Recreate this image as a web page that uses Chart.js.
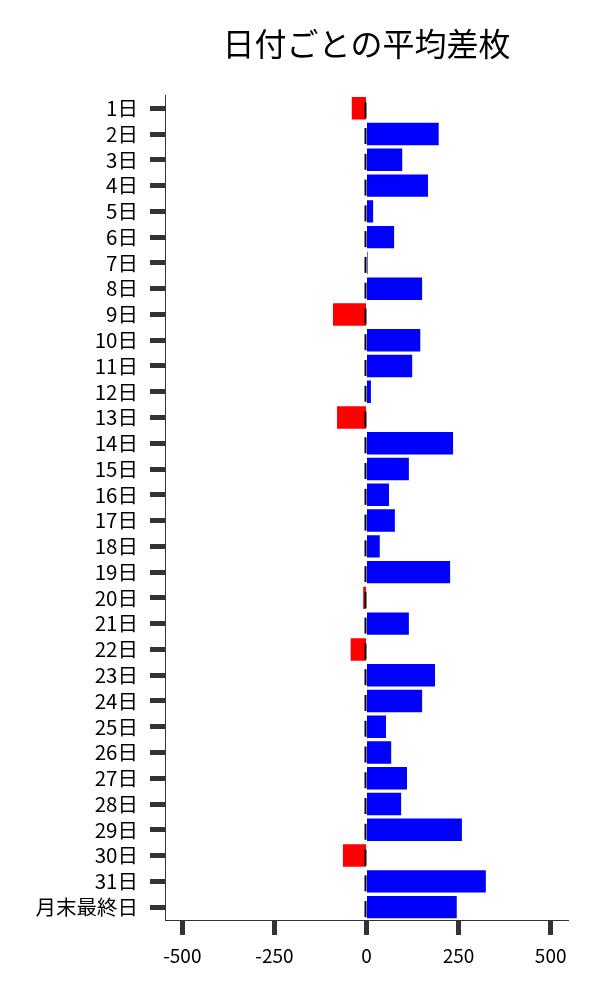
<!DOCTYPE html>
<html lang="ja">
<head>
<meta charset="utf-8">
<script src="https://cdn.jsdelivr.net/npm/chart.js@4"></script>
<style>
  html, body { margin: 0; padding: 0; background: #fff; }
  #wrap { width: 600px; height: 1000px; }
</style>
</head>
<body>
<div id="wrap"><canvas id="chart" width="600" height="1000"></canvas></div>
<script>
// --- データ ---
const days = [
  '1日', '2日', '3日', '4日', '5日', '6日', '7日', '8日', '9日', '10日',
  '11日', '12日', '13日', '14日', '15日', '16日', '17日', '18日', '19日', '20日',
  '21日', '22日', '23日', '24日', '25日', '26日', '27日', '28日', '29日', '30日',
  '31日', '月末最終日'
];
const avgDiff = [
  -40, 196, 97, 167, 18, 75, 3, 151, -91, 146,
  124, 12, -80, 235, 115, 61, 77, 36, 227, -9,
  115, -43, 186, 151, 53, 67, 110, 94, 259, -64,
  324, 245
];
const xTicks = [-500, -250, 0, 250, 500];

const FONT = '"Noto Sans CJK JP", "Noto Sans", sans-serif';
const barColors = avgDiff.map(v => v < 0 ? '#ff0000' : '#0000ff');

// ゼロ位置の小さな黒線
const zeroMarks = {
  id: 'zeroMarks',
  afterDatasetsDraw(chart) {
    const { ctx, scales } = chart;
    const x0 = scales.x.getPixelForValue(0) - 1;
    ctx.save();
    ctx.strokeStyle = '#000';
    ctx.lineWidth = 2;
    days.forEach((d, i) => {
      const y = scales.y.getPixelForValue(i);
      ctx.beginPath();
      ctx.moveTo(x0, y - 6);
      ctx.lineTo(x0, y + 10);
      ctx.stroke();
    });
    ctx.restore();
  }
};

new Chart(document.getElementById('chart'), {
  type: 'bar',
  data: {
    labels: days,
    datasets: [{
      data: avgDiff,
      backgroundColor: barColors,
      borderWidth: 0,
      categoryPercentage: 1,
      barPercentage: 0.87
    }]
  },
  options: {
    indexAxis: 'y',
    responsive: false,
    animation: false,
    devicePixelRatio: 1,
    layout: { padding: { top: 0, right: 32, bottom: 0, left: 0 } },
    plugins: {
      legend: { display: false },
      tooltip: { enabled: false },
      title: {
        display: true,
        text: '日付ごとの平均差枚',
        fullSize: false,
        color: '#000',
        font: { family: FONT, size: 32, weight: 'normal' },
        padding: { top: 25, bottom: 32 }
      }
    },
    scales: {
      x: {
        min: -547,
        max: 547,
        afterBuildTicks: (scale) => { scale.ticks = xTicks.map(v => ({ value: v })); },
        afterFit: (scale) => { scale.height = 80; },
        grid: { drawOnChartArea: false, tickLength: 15, tickWidth: 5, tickColor: '#333' },
        border: { color: '#333', width: 1 },
        ticks: {
          color: '#000',
          padding: 9,
          font: { family: FONT, size: 19 },
          maxRotation: 0
        }
      },
      y: {
        afterFit: (scale) => { scale.width = 165; },
        grid: { drawOnChartArea: false, offset: false, tickLength: 15, tickWidth: 5, tickColor: '#333' },
        border: { color: '#333', width: 1 },
        ticks: {
          color: '#000',
          padding: 12,
          autoSkip: false,
          font: { family: FONT, size: 20.5 }
        }
      }
    }
  },
  plugins: [zeroMarks]
});
</script>
</body>
</html>
